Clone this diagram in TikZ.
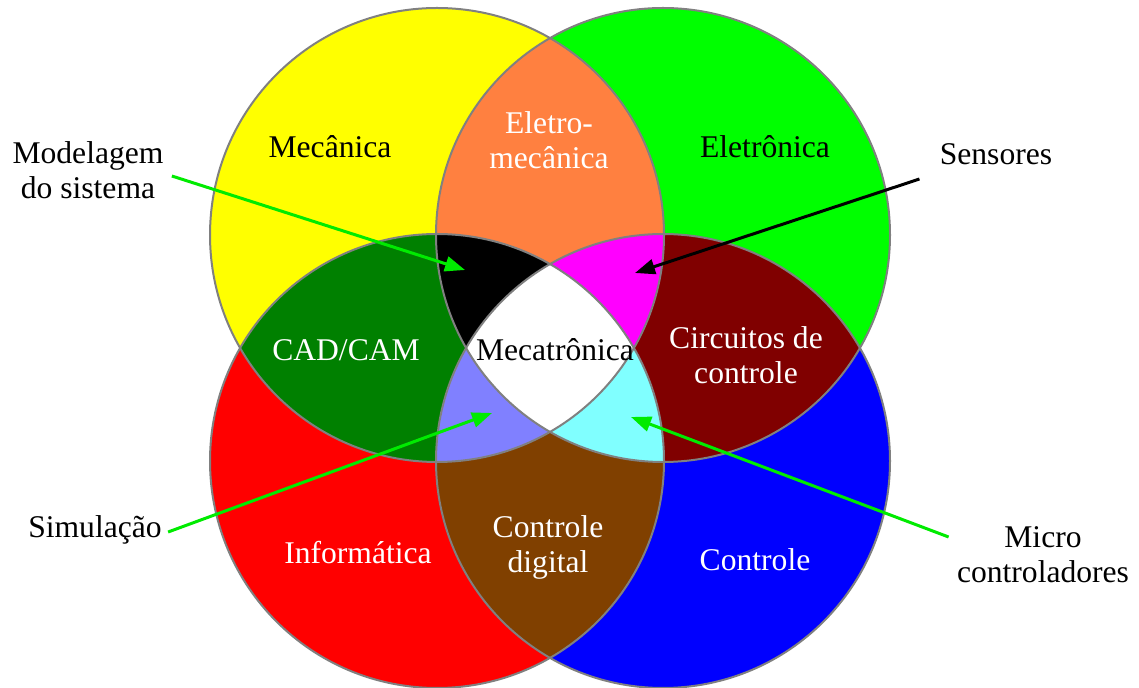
\documentclass[tikz,border=0pt]{standalone}
\usepackage{fontspec}
\setmainfont{Liberation Serif}
\usetikzlibrary{arrows.meta}

\definecolor{cmec}{RGB}{255,255,0}
\definecolor{cele}{RGB}{0,255,0}
\definecolor{cinf}{RGB}{255,0,0}
\definecolor{cctl}{RGB}{0,0,255}
\definecolor{celemec}{RGB}{255,128,64}
\definecolor{ccad}{RGB}{0,128,0}
\definecolor{ccirc}{RGB}{128,0,0}
\definecolor{cdig}{RGB}{128,64,0}
\definecolor{csens}{RGB}{255,0,255}
\definecolor{csim}{RGB}{128,128,255}
\definecolor{cmicro}{RGB}{128,255,255}
\definecolor{cptr}{RGB}{0,235,0}

\begin{document}
\begin{tikzpicture}[x=0.5pt, y=-0.5pt,
    lbl/.style={font=\fontsize{15.8}{17.5}\selectfont, align=center, inner sep=1pt},
    wlbl/.style={lbl, text=white},
    ring/.style={draw=black!50, line width=1pt},
    pointer/.style={line width=1.5pt, -{Triangle[length=10pt, width=7.5pt]}}]

\useasboundingbox (0,0) rectangle (1139,688);

% Circle centres
\coordinate (c-mec) at (437,235);
\coordinate (c-ele) at (663,235);
\coordinate (c-inf) at (437,461);
\coordinate (c-ctl) at (663,461);
\def\rad{113.5pt}

% Single areas
\fill[cmec] (c-mec) circle[radius=\rad];
\fill[cele] (c-ele) circle[radius=\rad];
\fill[cinf] (c-inf) circle[radius=\rad];
\fill[cctl] (c-ctl) circle[radius=\rad];

% Two-way overlaps
\begin{scope}
  \clip (c-mec) circle[radius=\rad];
  \fill[celemec] (c-ele) circle[radius=\rad];
  \fill[ccad] (c-inf) circle[radius=\rad];
\end{scope}
\begin{scope}
  \clip (c-ctl) circle[radius=\rad];
  \fill[ccirc] (c-ele) circle[radius=\rad];
  \fill[cdig] (c-inf) circle[radius=\rad];
\end{scope}

% Three-way overlaps
\begin{scope}
  \clip (c-mec) circle[radius=\rad];
  \clip (c-ele) circle[radius=\rad];
  \fill[black] (c-inf) circle[radius=\rad];
  \fill[csens] (c-ctl) circle[radius=\rad];
\end{scope}
\begin{scope}
  \clip (c-inf) circle[radius=\rad];
  \clip (c-ctl) circle[radius=\rad];
  \fill[csim] (c-mec) circle[radius=\rad];
  \fill[cmicro] (c-ele) circle[radius=\rad];
\end{scope}

% Centre (all four)
\begin{scope}
  \clip (c-mec) circle[radius=\rad];
  \clip (c-ele) circle[radius=\rad];
  \clip (c-inf) circle[radius=\rad];
  \fill[white] (c-ctl) circle[radius=\rad];
\end{scope}

% Outlines
\foreach \c in {c-mec, c-ele, c-inf, c-ctl}
  \draw[ring] (\c) circle[radius=\rad];

% Area labels
\node[lbl] (mecanica) at (330,147) {Mecânica};
\node[wlbl] (eletromec) at (549,140) {Eletro-\\mecânica};
\node[lbl] (eletronica) at (765,147) {Eletrônica};
\node[wlbl] (cadcam) at (346,350) {CAD/CAM};
\node[lbl] (mecatronica) at (555,350) {Mecatrônica};
\node[wlbl] (circuitos) at (746,355) {Circuitos de\\controle};
\node[wlbl] (informatica) at (358,553) {Informática};
\node[wlbl] (digital) at (548,547) {Controle\\digital};
\node[wlbl] (controle) at (755,560) {Controle};

% Outside labels
\node[lbl] (modelagem) at (88,170) {Modelagem\\do sistema};
\node[lbl] (sensores) at (996,154) {Sensores};
\node[lbl] (simulacao) at (95,530) {Simulação};
\node[lbl] (micro) at (1043,555) {Micro\\controladores};

% Pointer targets
\coordinate (t-modelagem) at (465,270);
\coordinate (t-sensores) at (635,273);
\coordinate (t-simulacao) at (492,413);
\coordinate (t-micro) at (631,417);

% Pointers
\draw[pointer, cptr] ([xshift=3pt, yshift=-3pt]modelagem.east) -- (t-modelagem);
\draw[pointer, black] ([xshift=-9pt, yshift=-6pt]sensores.south west) -- (t-sensores);
\draw[pointer, cptr] ([xshift=2pt, yshift=-1pt]simulacao.east) -- (t-simulacao);
\draw[pointer, cptr] ([xshift=-3pt, yshift=9pt]micro.west) -- (t-micro);

\end{tikzpicture}
\end{document}
